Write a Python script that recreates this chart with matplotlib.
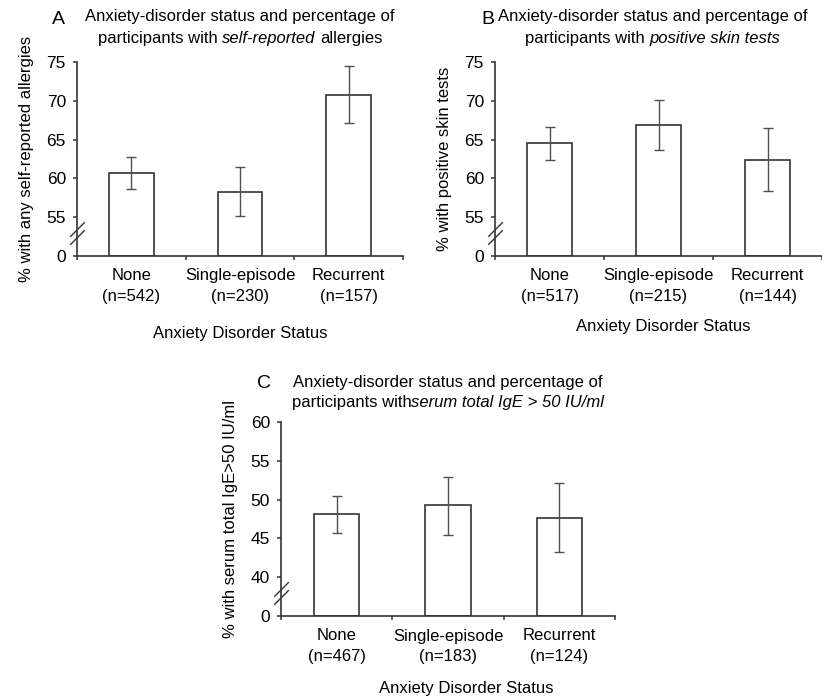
import numpy as np
import matplotlib
matplotlib.use("Agg")
import matplotlib.pyplot as plt

plt.rcParams['font.family'] = ['Liberation Sans', 'DejaVu Sans']

groups = ["None", "Single-episode", "Recurrent"]

n_a = [542, 230, 157]
pct_a = [60.7, 58.3, 70.7]
lo_a = [58.6, 55.1, 67.1]
hi_a = [62.8, 61.5, 74.5]

n_b = [517, 215, 144]
pct_b = [64.5, 66.9, 62.4]
lo_b = [62.4, 63.6, 58.4]
hi_b = [66.6, 70.1, 66.5]

n_c = [467, 183, 124]
pct_c = [48.1, 49.3, 47.6]
lo_c = [45.7, 45.5, 43.2]
hi_c = [50.4, 52.9, 52.1]

W, H = 822, 700
EDGE = '#333333'


def px_rect(left, top, right, bottom):
    return [left / W, 1 - bottom / H, (right - left) / W, (bottom - top) / H]


def panel(fig, rect, pct, lo, hi, ns, base, ticks, ylabel):
    ax = fig.add_axes(rect)
    x = np.arange(len(pct)) + 0.5
    pct = np.array(pct)
    err = [pct - np.array(lo), np.array(hi) - pct]
    ax.bar(x, pct - base, bottom=base, width=0.41, color='white',
           edgecolor=EDGE, linewidth=1.2, zorder=2)
    ax.errorbar(x, pct, yerr=err, fmt='none', ecolor='#505050',
                elinewidth=1.0, capsize=3.5, capthick=1.0, zorder=3)
    ax.set_xlim(0, 3)
    ax.set_ylim(base, ticks[-1])
    ax.set_yticks([base] + ticks)
    ax.set_yticklabels(['0'] + [str(t) for t in ticks])
    ax.set_xticks([0, 1, 2, 3])
    ax.set_xticklabels([])
    ax.set_xticks(x, minor=True)
    labels = ax.set_xticklabels([f"{g}\n(n={n})" for g, n in zip(groups, ns)],
                                minor=True)
    for lab in labels:
        lab.set_linespacing(1.45)
    ax.tick_params(axis='x', which='minor', length=0, pad=9, labelsize=12)
    ax.tick_params(axis='x', which='major', length=3, width=1.1,
                   color=EDGE)
    ax.tick_params(axis='y', length=3, width=1.1, pad=5, labelsize=12.5,
                   color=EDGE)
    for s in ['top', 'right']:
        ax.spines[s].set_visible(False)
    for s in ['left', 'bottom']:
        ax.spines[s].set_color(EDGE)
        ax.spines[s].set_linewidth(1.2)
    ax.set_ylabel(ylabel, fontsize=12, labelpad=9)
    # break marks on the y axis
    step = ticks[1] - ticks[0]
    ax.plot([0, 0], [base + 0.5 * step, base + 0.7 * step],
            transform=ax.get_yaxis_transform(), marker=[(-1, -1), (1, 1)],
            markersize=10.5, linestyle='none', color=EDGE, mec=EDGE,
            mew=1.0, clip_on=False, zorder=5)
    return ax


def rich_line(fig, cx, cy, parts, size=12):
    renderer = fig.canvas.get_renderer()
    probe1 = fig.text(0, 0, "a a", fontsize=size)
    probe2 = fig.text(0, 0, "aa", fontsize=size)
    space = (probe1.get_window_extent(renderer).width
             - probe2.get_window_extent(renderer).width)
    probe1.remove()
    probe2.remove()
    items = []
    total = 0
    for s, st, gap in parts:
        t = fig.text(0, 0, s, fontsize=size, style=st, va='center',
                     ha='left')
        w = t.get_window_extent(renderer).width
        items.append((t, w, gap))
        total += w + (space if gap else 0)
    xx = cx - total / 2
    for t, w, gap in items:
        t.set_position((xx / W, 1 - cy / H))
        xx += w + (space if gap else 0)


fig = plt.figure(figsize=(W / 100, H / 100), dpi=100)

panel(fig, px_rect(77, 62, 403, 256), pct_a, lo_a, hi_a, n_a, 50,
      [55, 60, 65, 70, 75], "% with any self-reported allergies")
panel(fig, px_rect(495, 62, 822, 256), pct_b, lo_b, hi_b, n_b, 50,
      [55, 60, 65, 70, 75], "% with positive skin tests")
panel(fig, px_rect(281, 422, 615, 616), pct_c, lo_c, hi_c, n_c, 35,
      [40, 45, 50, 55, 60], "% with serum total IgE>50 IU/ml")

fig.canvas.draw()

fig.text(52 / W, 1 - 19 / H, "A", fontsize=14, va='center', ha='left')
fig.text(481 / W, 1 - 19 / H, "B", fontsize=14, va='center', ha='left')
fig.text(257 / W, 1 - 383 / H, "C", fontsize=14, va='center', ha='left')

fig.text(240 / W, 1 - 17 / H, "Anxiety-disorder status and percentage of",
         fontsize=12, ha='center', va='center')
rich_line(fig, 240, 38, [("participants with", 'normal', True),
                         ("self-reported", 'italic', True),
                         ("allergies", 'normal', False)])

fig.text(653 / W, 1 - 17 / H, "Anxiety-disorder status and percentage of",
         fontsize=12, ha='center', va='center')
rich_line(fig, 653, 38, [("participants with", 'normal', True),
                         ("positive skin tests", 'italic', False)])

fig.text(448 / W, 1 - 382 / H, "Anxiety-disorder status and percentage of",
         fontsize=12, ha='center', va='center')
rich_line(fig, 448, 402, [("participants with", 'normal', False),
                          ("serum total IgE > 50 IU/ml", 'italic', False)])

fig.text(240 / W, 1 - 333 / H, "Anxiety Disorder Status", fontsize=12,
         ha='center', va='center')
fig.text(663 / W, 1 - 327 / H, "Anxiety Disorder Status", fontsize=12,
         ha='center', va='center')
fig.text(466 / W, 1 - 688 / H, "Anxiety Disorder Status", fontsize=12,
         ha='center', va='center')

fig.savefig("out.png", dpi=100)
